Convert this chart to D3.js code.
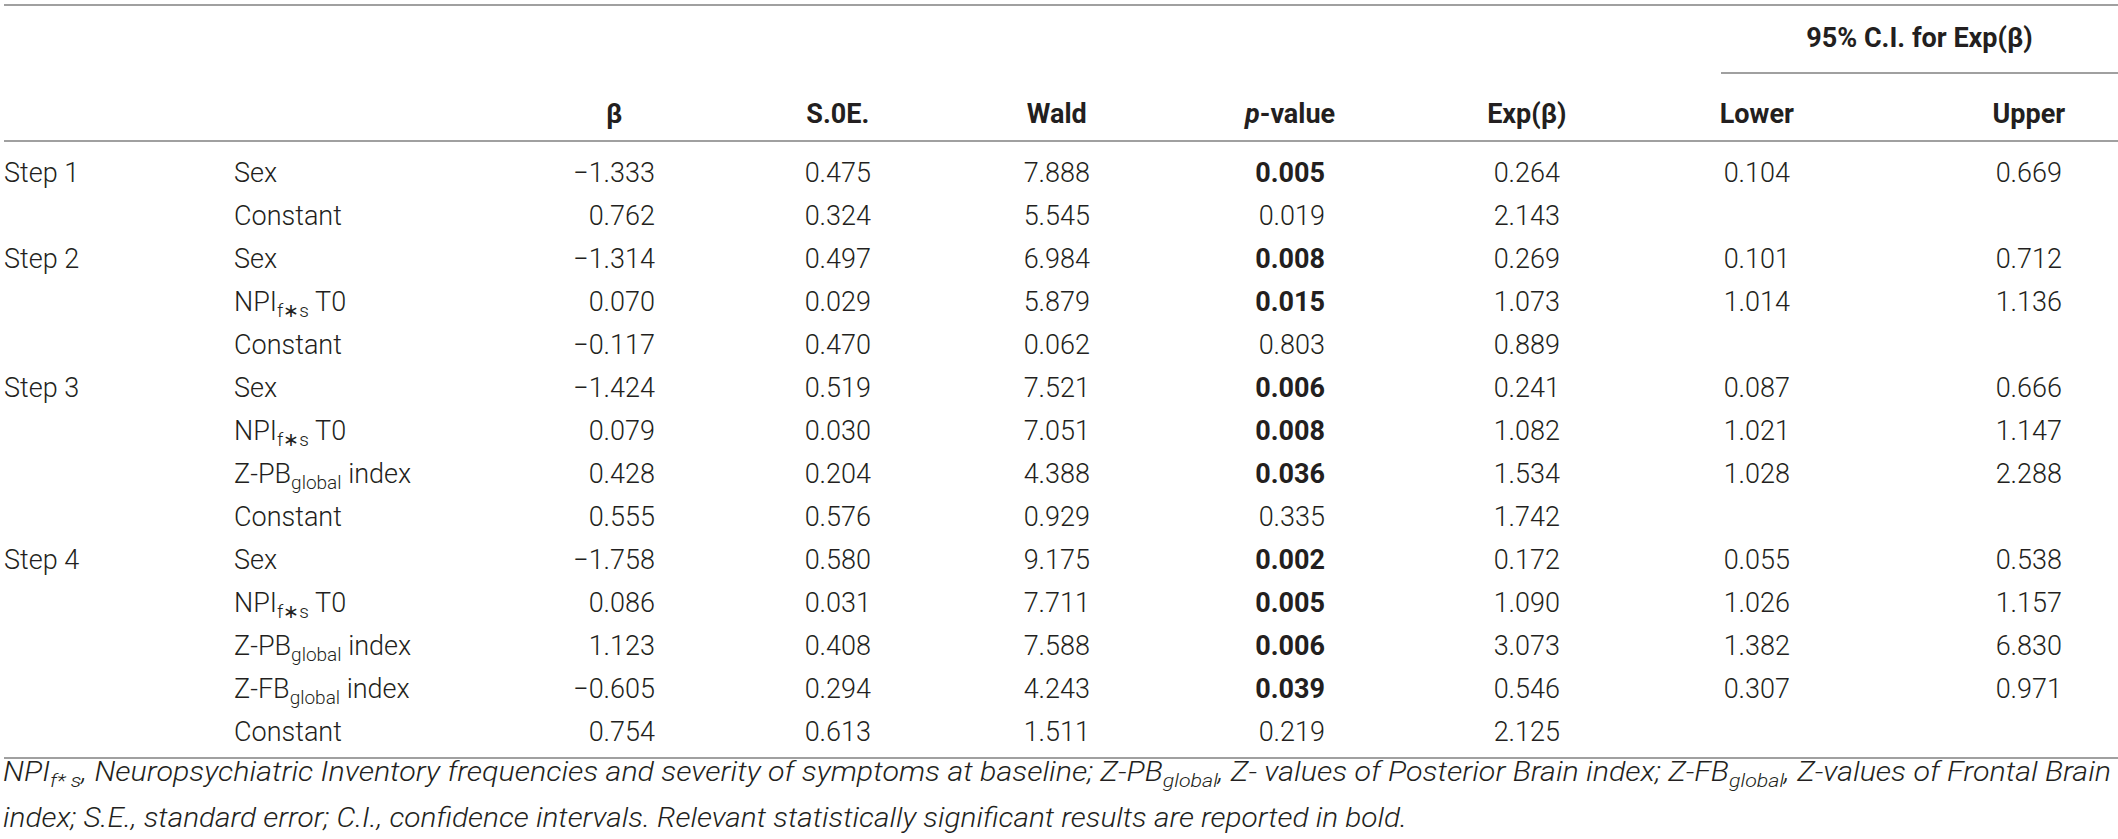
<!DOCTYPE html>
<html>
<head>
<meta charset="utf-8">
<script src="https://cdn.jsdelivr.net/npm/d3@7"></script>
<style>
  body { margin: 0; background: #fff; }
  text { font-family: Roboto, "Liberation Sans", sans-serif; fill: #231f20; }
</style>
</head>
<body>
<div id="chart-area"></div>
<script>
// ---- data ----
const columns = ["β", "S.0E.", "Wald", "p-value", "Exp(β)", "Lower", "Upper"];
const steps = ["Step 1", "", "Step 2", "", "", "Step 3", "", "", "", "Step 4", "", "", "", ""];
// variable labels: [main, subscript, rest]
const variables = [
  ["Sex"], ["Constant"],
  ["Sex"], ["NPI", "f∗s", " T0"], ["Constant"],
  ["Sex"], ["NPI", "f∗s", " T0"], ["Z-PB", "global", " index"], ["Constant"],
  ["Sex"], ["NPI", "f∗s", " T0"], ["Z-PB", "global", " index"], ["Z-FB", "global", " index"], ["Constant"]
];
const beta  = ["−1.333", "0.762", "−1.314", "0.070", "−0.117", "−1.424", "0.079", "0.428", "0.555", "−1.758", "0.086", "1.123", "−0.605", "0.754"];
const se    = ["0.475", "0.324", "0.497", "0.029", "0.470", "0.519", "0.030", "0.204", "0.576", "0.580", "0.031", "0.408", "0.294", "0.613"];
const wald  = ["7.888", "5.545", "6.984", "5.879", "0.062", "7.521", "7.051", "4.388", "0.929", "9.175", "7.711", "7.588", "4.243", "1.511"];
const pval  = ["0.005", "0.019", "0.008", "0.015", "0.803", "0.006", "0.008", "0.036", "0.335", "0.002", "0.005", "0.006", "0.039", "0.219"];
const pBold = [true, false, true, true, false, true, true, true, false, true, true, true, true, false];
const expB  = ["0.264", "2.143", "0.269", "1.073", "0.889", "0.241", "1.082", "1.534", "1.742", "0.172", "1.090", "3.073", "0.546", "2.125"];
const lower = ["0.104", "", "0.101", "1.014", "", "0.087", "1.021", "1.028", "", "0.055", "1.026", "1.382", "0.307", ""];
const upper = ["0.669", "", "0.712", "1.136", "", "0.666", "1.147", "2.288", "", "0.538", "1.157", "6.830", "0.971", ""];
const groupHeader = "95% C.I. for Exp(β)";
const footLine1 = [
  ["NPI"], ["f* s", true], [", Neuropsychiatric Inventory frequencies and severity of symptoms at baseline; Z-PB"],
  ["global", true], [", Z- values of Posterior Brain index; Z-FB"], ["global", true], [", Z-values of Frontal Brain"]
];
const footLine2 = "index; S.E., standard error; C.I., confidence intervals. Relevant statistically significant results are reported in bold.";

// ---- layout ----
const svgWidth = 2118, svgHeight = 839;
const colRight = [655, 871, 1090, 1325, 1560, 1790, 2062];
const fontSize = 27, subSize = 19;
const ruleColor = "#a0a0a0";

const values = [beta, se, wald, pval, expB, lower, upper];

const x = d3.scaleOrdinal().domain(columns).range(colRight);
const y = d3.scaleBand().domain(d3.range(steps.length)).range([150.5, 752.5]);

const svg = d3.select("#chart-area")
  .append("svg")
  .attr("width", svgWidth)
  .attr("height", svgHeight);

// rules
function rule(x1, x2, yy) {
  svg.append("line")
    .attr("x1", x1).attr("x2", x2)
    .attr("y1", yy).attr("y2", yy)
    .attr("stroke", ruleColor)
    .attr("stroke-width", 2);
}
rule(4, svgWidth, 5);
rule(1721, svgWidth, 73);
rule(4, svgWidth, 141);
rule(4, svgWidth, 758);

// body cells
const rows = svg.append("g").attr("class", "rows");

rows.selectAll("text.step")
  .data(steps)
  .join("text")
  .attr("class", "step")
  .attr("x", 4)
  .attr("y", (d, i) => y(i) + y.bandwidth() / 2)
  .attr("dy", "0.36em")
  .attr("font-size", fontSize)
  .attr("font-weight", 300)
  .text(d => d);

rows.selectAll("text.var")
  .data(variables)
  .join("text")
  .attr("class", "var")
  .attr("x", 234)
  .attr("y", (d, i) => y(i) + y.bandwidth() / 2)
  .attr("dy", "0.36em")
  .attr("font-size", fontSize)
  .attr("font-weight", 300)
  .each(function(d) {
    const t = d3.select(this);
    t.append("tspan").text(d[0]);
    if (d.length > 1) {
      t.append("tspan").attr("font-size", subSize).attr("dy", 6).text(d[1]);
      t.append("tspan").attr("dy", -6).text(d[2]);
    }
  });

const firstRowCenters = [];
columns.forEach((col, c) => {
  const g = rows.append("g").attr("class", "col");
  g.selectAll("text")
    .data(values[c])
    .join("text")
    .attr("x", x(col))
    .attr("y", (d, i) => y(i) + y.bandwidth() / 2)
    .attr("dy", "0.36em")
    .attr("text-anchor", "end")
    .attr("font-size", fontSize)
    .attr("font-weight", (d, i) => (col === "p-value" && pBold[i]) ? 700 : 300)
    .text(d => d);
  const bb = g.select("text").node().getBBox();
  firstRowCenters.push(bb.x + bb.width / 2);
});

// headers, centred over the first row of each column
const head = svg.append("g").attr("class", "head");
head.selectAll("text")
  .data(columns)
  .join("text")
  .attr("x", (d, i) => firstRowCenters[i])
  .attr("y", 113)
  .attr("dy", "0.36em")
  .attr("text-anchor", "middle")
  .attr("font-size", fontSize)
  .attr("font-weight", 700)
  .each(function(d) {
    const t = d3.select(this);
    if (d === "p-value") {
      t.append("tspan").attr("font-style", "italic").text("p");
      t.append("tspan").text("-value");
    } else {
      t.text(d);
    }
  });

head.append("text")
  .attr("x", (1721 + svgWidth) / 2)
  .attr("y", 37)
  .attr("dy", "0.36em")
  .attr("text-anchor", "middle")
  .attr("font-size", fontSize)
  .attr("font-weight", 700)
  .text(groupHeader);

// footnote
const foot1 = svg.append("text")
  .attr("x", 3)
  .attr("y", 787)
  .attr("dy", "0.36em")
  .attr("font-size", fontSize)
  .attr("font-weight", 300)
  .attr("font-style", "italic");
footLine1.forEach(seg => {
  if (seg[1]) {
    foot1.append("tspan").attr("font-size", subSize).attr("dy", 6).text(seg[0]);
  } else {
    foot1.append("tspan").attr("dy", foot1.selectAll("tspan").size() ? -6 : 0).text(seg[0]);
  }
});
const w1 = foot1.node().getComputedTextLength();
if (w1 > 0) foot1.attr("textLength", 2108).attr("lengthAdjust", "spacingAndGlyphs");

svg.append("text")
  .attr("x", 3)
  .attr("y", 817)
  .attr("dy", "0.36em")
  .attr("font-size", fontSize)
  .attr("font-weight", 300)
  .attr("font-style", "italic")
  .attr("textLength", 1404)
  .attr("lengthAdjust", "spacingAndGlyphs")
  .text(footLine2);
</script>
</body>
</html>
